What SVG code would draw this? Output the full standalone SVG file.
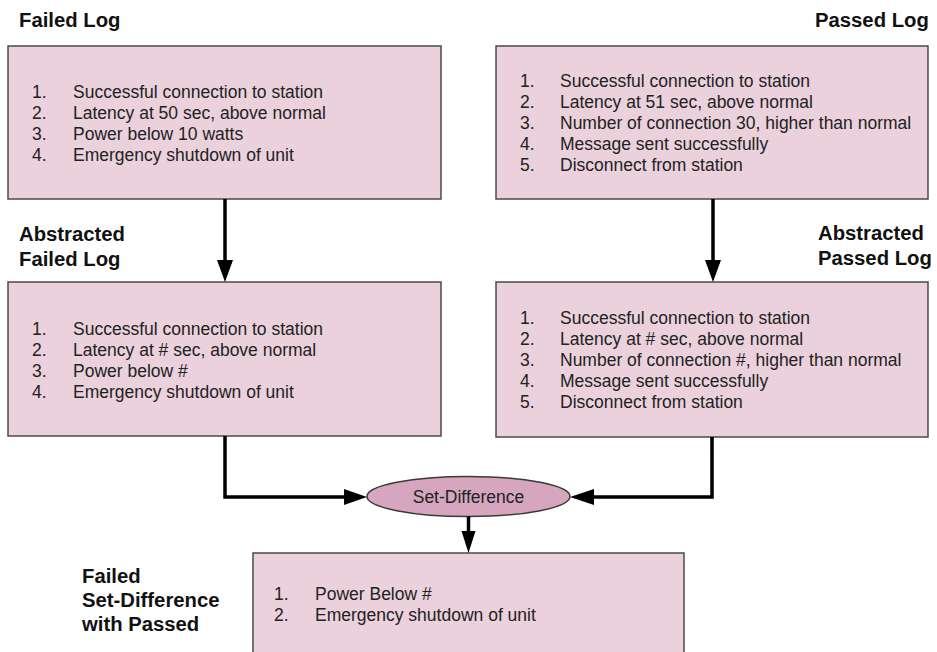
<svg xmlns="http://www.w3.org/2000/svg" width="937" height="652" viewBox="0 0 937 652">
<style>
.box{fill:#ead1dc;stroke:#4a4a4a;stroke-width:1.5}
.ell{fill:#d5a6bd;stroke:#3a3a3a;stroke-width:1.5}
.t{font-family:"Liberation Sans",Arial,sans-serif;font-size:17.5px;fill:#222}
.h{font-family:"Liberation Sans",Arial,sans-serif;font-size:20.3px;font-weight:bold;fill:#111}
.c{fill:none;stroke:#000;stroke-width:3.5}
.a{fill:#000}
</style>
<rect width="937" height="652" fill="#fff"/>
<g id="failed-log">
<text class="h" x="19" y="27">Failed Log</text>
<rect class="box" x="8" y="46" width="433" height="153"/>
<text class="t" x="32" y="98">1.</text><text class="t" x="73" y="98">Successful connection to station</text>
<text class="t" x="32" y="119">2.</text><text class="t" x="73" y="119">Latency at 50 sec, above normal</text>
<text class="t" x="32" y="140">3.</text><text class="t" x="73" y="140">Power below 10 watts</text>
<text class="t" x="32" y="161">4.</text><text class="t" x="73" y="161">Emergency shutdown of unit</text>
</g>
<g id="passed-log">
<text class="h" x="815" y="27">Passed Log</text>
<rect class="box" x="496" y="46" width="432" height="153"/>
<text class="t" x="520" y="87">1.</text><text class="t" x="560" y="87">Successful connection to station</text>
<text class="t" x="520" y="108">2.</text><text class="t" x="560" y="108">Latency at 51 sec, above normal</text>
<text class="t" x="520" y="129">3.</text><text class="t" x="560" y="129">Number of connection 30, higher than normal</text>
<text class="t" x="520" y="150">4.</text><text class="t" x="560" y="150">Message sent successfully</text>
<text class="t" x="520" y="171">5.</text><text class="t" x="560" y="171">Disconnect from station</text>
</g>
<g id="abstracted-failed-log">
<text class="h" x="19" y="241">Abstracted</text>
<text class="h" x="19" y="266">Failed Log</text>
<rect class="box" x="8" y="282" width="433" height="154"/>
<text class="t" x="32" y="335">1.</text><text class="t" x="73" y="335">Successful connection to station</text>
<text class="t" x="32" y="356">2.</text><text class="t" x="73" y="356">Latency at # sec, above normal</text>
<text class="t" x="32" y="377">3.</text><text class="t" x="73" y="377">Power below #</text>
<text class="t" x="32" y="398">4.</text><text class="t" x="73" y="398">Emergency shutdown of unit</text>
</g>
<g id="abstracted-passed-log">
<text class="h" x="818" y="240">Abstracted</text>
<text class="h" x="818" y="265">Passed Log</text>
<rect class="box" x="496" y="282" width="432" height="155"/>
<text class="t" x="520" y="324">1.</text><text class="t" x="560" y="324">Successful connection to station</text>
<text class="t" x="520" y="345">2.</text><text class="t" x="560" y="345">Latency at # sec, above normal</text>
<text class="t" x="520" y="366">3.</text><text class="t" x="560" y="366">Number of connection #, higher than normal</text>
<text class="t" x="520" y="387">4.</text><text class="t" x="560" y="387">Message sent successfully</text>
<text class="t" x="520" y="408">5.</text><text class="t" x="560" y="408">Disconnect from station</text>
</g>
<g id="set-difference">
<ellipse class="ell" cx="468.5" cy="496.5" rx="101.5" ry="20"/>
<text class="t" x="468.5" y="503" text-anchor="middle" font-size="17">Set-Difference</text>
</g>
<g id="result">
<text class="h" x="82" y="583" font-size="21">Failed</text>
<text class="h" x="82" y="607" font-size="21">Set-Difference</text>
<text class="h" x="82" y="631" font-size="21">with Passed</text>
<rect class="box" x="253" y="553" width="431" height="110"/>
<text class="t" x="274" y="600">1.</text><text class="t" x="315" y="600">Power Below #</text>
<text class="t" x="274" y="621">2.</text><text class="t" x="315" y="621">Emergency shutdown of unit</text>
</g>
<g id="connectors">
<path class="c" d="M225 199 V262"/>
<polygon class="a" points="217,260 233,260 225,282"/>
<path class="c" d="M713 199 V262"/>
<polygon class="a" points="705,260 721,260 713,282"/>
<path class="c" d="M225 436 V497 H346"/>
<polygon class="a" points="344,489 344,505 367,497"/>
<path class="c" d="M712 437 V497 H592"/>
<polygon class="a" points="594,489 594,505 570,497"/>
<path class="c" d="M468.5 516.5 V533"/>
<polygon class="a" points="461.5,531 475.5,531 468.5,553"/>
</g>
</svg>
